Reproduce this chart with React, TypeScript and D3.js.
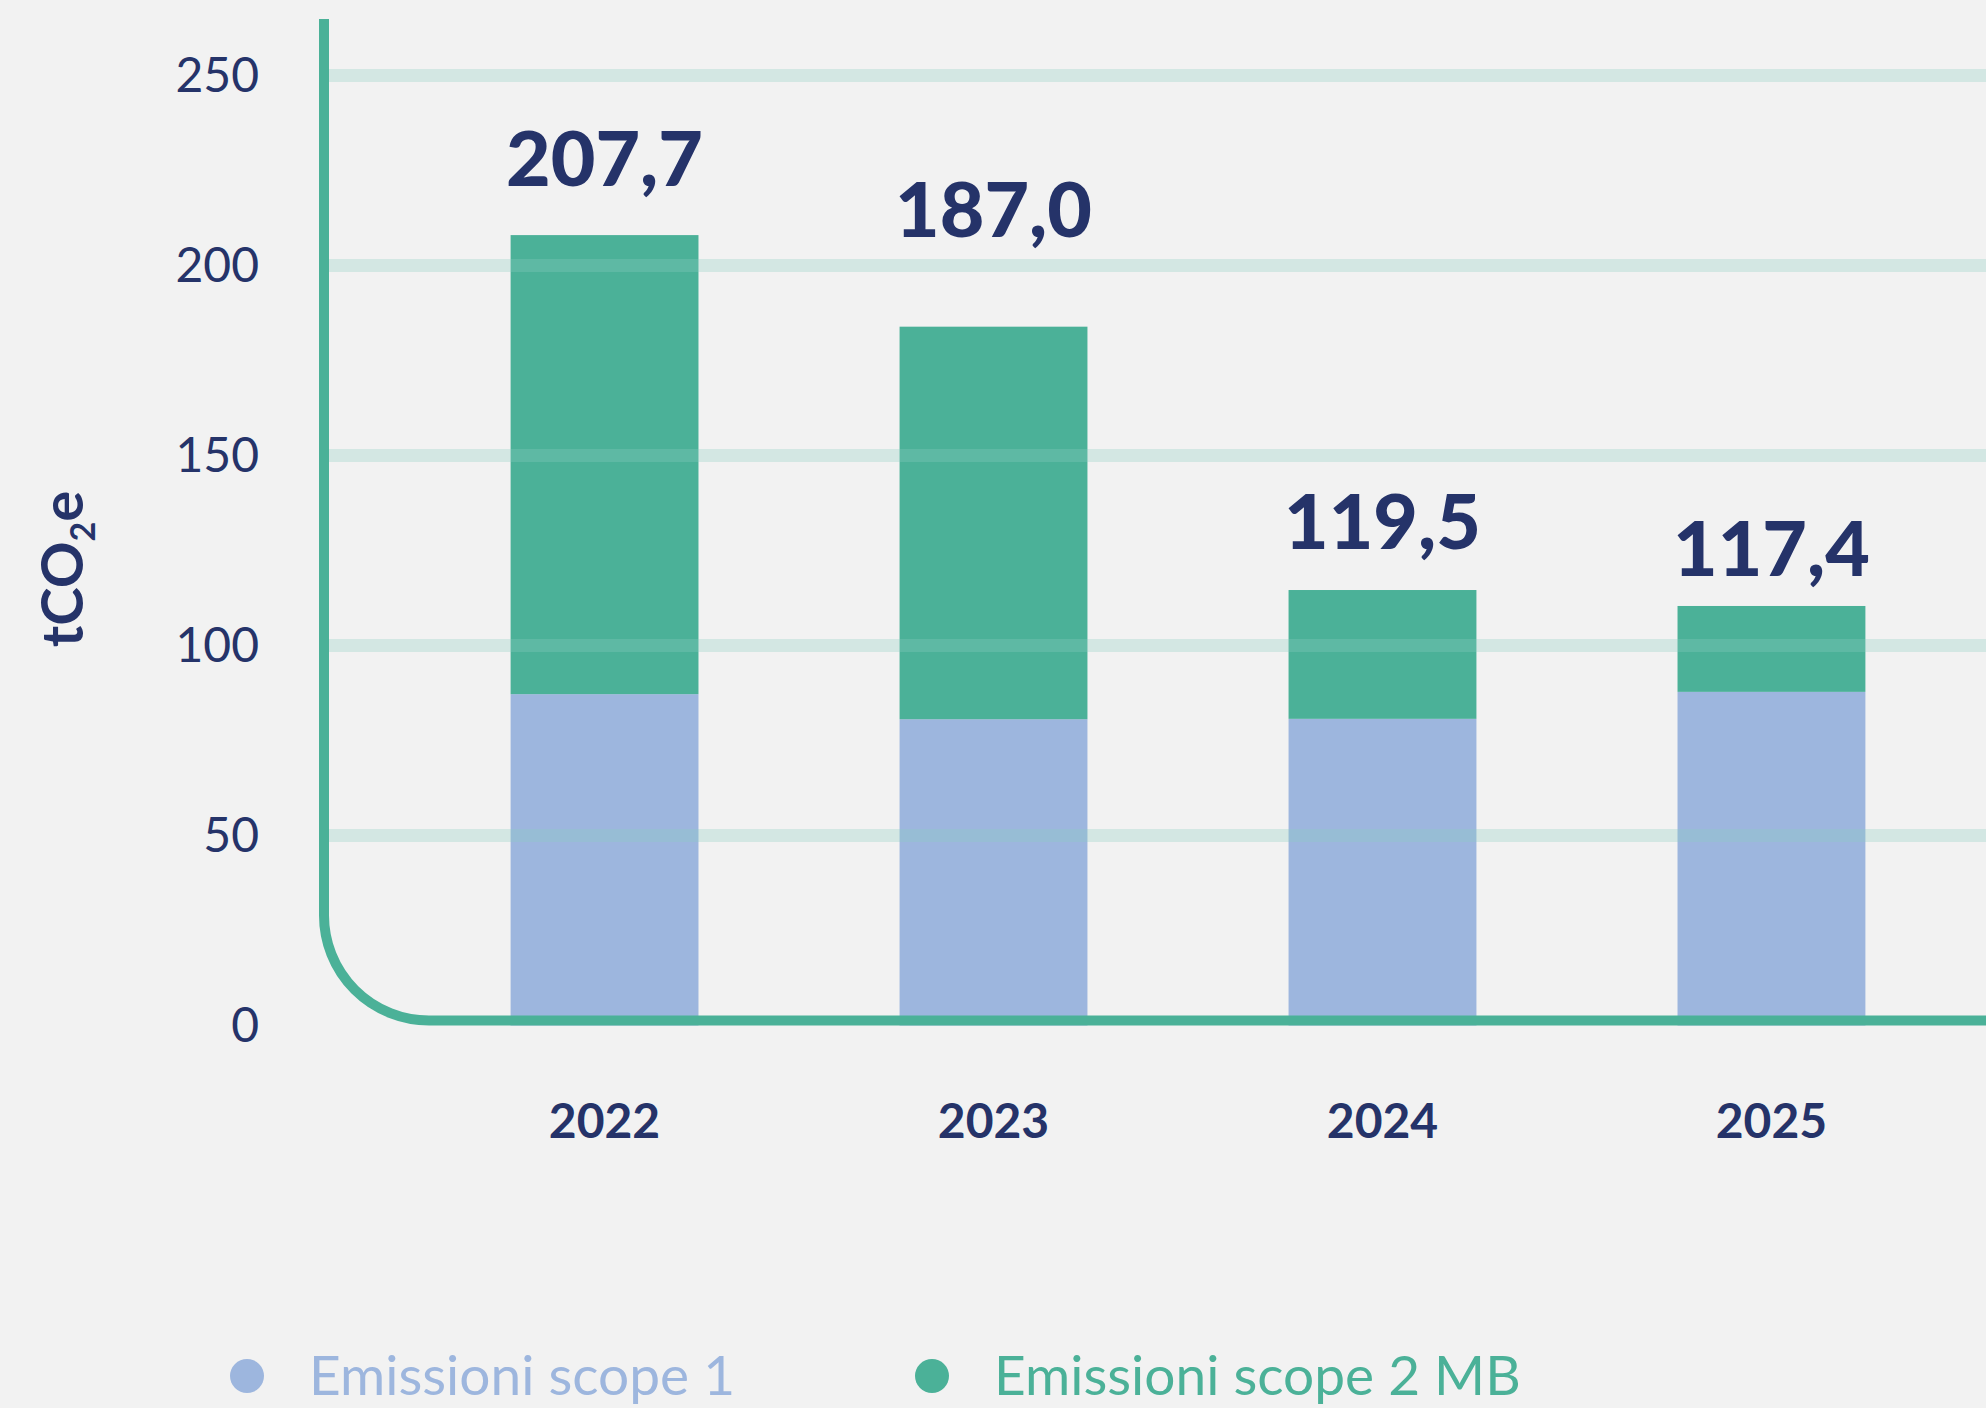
import React from "react";
import { scaleBand, scaleLinear } from "d3";

// values (tCO2e)
const years = ["2022", "2023", "2024", "2025"];
const scope1 = [87.2, 80.6, 80.7, 87.8];
const scope2 = [120.8, 103.3, 33.9, 22.6];
const totalLabels = ["207,7", "187,0", "119,5", "117,4"];
// level (in tCO2e) where each total label sits
const labelLevels = [221, 207.5, 125.4, 118.3];
const yTicks = [0, 50, 100, 150, 200, 250];
const seriesNames = ["Emissioni scope 1", "Emissioni scope 2 MB"];

const W = 1986;
const H = 1408;
const navy = "#253369";
const blue = "#9db6de";
const green = "#4bb198";
const font = "Lato, 'Noto Sans', sans-serif";

export default function App() {
  const x = scaleBand<string>().domain(years).range([309.5, 2066.5]).padding(0.517);
  const y = scaleLinear().domain([0, 250]).range([1025.5, 75.5]);

  const axisX = 324;
  const axisTop = 19;
  const base = y(0) - 5;
  const r = 105;
  const axisPath = `M${axisX},${axisTop} V${base - r} A${r},${r} 0 0 0 ${axisX + r},${base} H${W}`;

  const colors = [blue, green];

  return (
    <svg
      width={W}
      height={H}
      style={{ position: "absolute", left: 0, top: 0, display: "block" }}
      fontFamily={font}
    >
      <rect width={W} height={H} fill="#f2f2f2" />

      {/* stacked bars */}
      {years.map((yr, i) => {
        const x0 = x(yr) as number;
        const bw = x.bandwidth();
        const top1 = scope1[i];
        const top2 = scope1[i] + scope2[i];
        return (
          <g key={yr}>
            <rect x={x0} y={y(top1)} width={bw} height={y(0) - y(top1)} fill={blue} />
            <rect x={x0} y={y(top2)} width={bw} height={y(top1) - y(top2)} fill={green} />
          </g>
        );
      })}

      {/* gridlines on top, translucent */}
      {yTicks
        .filter((t) => t > 0)
        .map((t) => (
          <line
            key={t}
            x1={axisX + 5}
            x2={W}
            y1={y(t)}
            y2={y(t)}
            stroke="rgb(140,206,192)"
            strokeOpacity={0.3}
            strokeWidth={13}
          />
        ))}

      {/* rounded axis */}
      <path d={axisPath} fill="none" stroke={green} strokeWidth={10} />

      {/* tick labels */}
      {yTicks.map((t) => (
        <text key={t} x={259} y={y(t)} dy="0.35em" textAnchor="end" fontSize={48} fill={navy}>
          {t}
        </text>
      ))}

      {/* y title */}
      <text
        transform={`translate(83,569) rotate(-90)`}
        textAnchor="middle"
        fontSize={58}
        fontWeight={700}
        fill={navy}
      >
        tCO
        <tspan fontSize={34} dy={12}>2</tspan>
        <tspan dy={-12}>e</tspan>
      </text>

      {/* totals */}
      {years.map((yr, i) => (
        <text
          key={yr}
          x={(x(yr) as number) + x.bandwidth() / 2}
          y={y(labelLevels[i])}
          textAnchor="middle"
          fontSize={77}
          fontWeight={900}
          fill={navy}
        >
          {totalLabels[i]}
        </text>
      ))}

      {/* year labels */}
      {years.map((yr) => (
        <text
          key={yr}
          x={(x(yr) as number) + x.bandwidth() / 2}
          y={1138}
          textAnchor="middle"
          fontSize={48}
          fontWeight={700}
          fill={navy}
        >
          {yr}
        </text>
      ))}

      {/* legend */}
      {seriesNames.map((name, i) => {
        const lx = i === 0 ? 247 : 932;
        return (
          <g key={name}>
            <circle cx={lx} cy={1376} r={17} fill={colors[i]} />
            <text x={lx + 62} y={1395} fontSize={55} fill={colors[i]}>
              {name}
            </text>
          </g>
        );
      })}
    </svg>
  );
}
